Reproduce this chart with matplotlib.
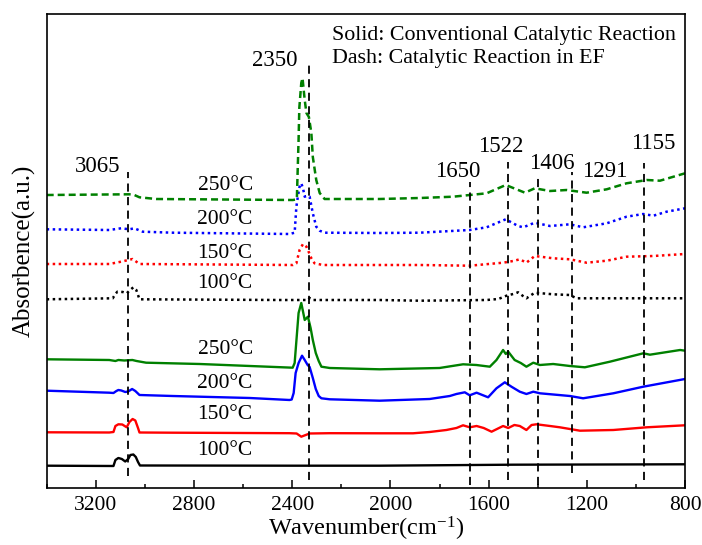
import matplotlib
matplotlib.use("Agg")
import matplotlib.pyplot as plt
from matplotlib.ticker import MultipleLocator

plt.rcParams["font.family"] = ["Liberation Serif", "DejaVu Serif"]
plt.rcParams["mathtext.fontset"] = "custom"
plt.rcParams["mathtext.rm"] = "Liberation Serif"
plt.rcParams["mathtext.default"] = "regular"

# conventional catalytic reaction (solid lines), stacked absorbance
wn_c100 = [3400, 3128, 3120, 3108, 3094, 3080, 3068, 3059, 3047, 3037, 3028, 3020, 2400, 2044, 1501, 800]
a_c100 = [0.323, 0.32, 0.38, 0.40, 0.39, 0.365, 0.39, 0.43, 0.435, 0.41, 0.36, 0.325, 0.323, 0.323, 0.333, 0.337]

wn_c150 = [3400, 3145, 3128, 3120, 3108, 3092, 3074, 3063, 3050, 3039, 3028, 3022, 2887, 2411, 2382, 2363,
           2345, 2329, 2247, 2044, 1908, 1840, 1772, 1731, 1704, 1677, 1649, 1620, 1588, 1541, 1520, 1495,
           1473, 1446, 1425, 1405, 1350, 1310, 1228, 1092, 956, 800]
a_c150 = [0.657, 0.655, 0.66, 0.72, 0.737, 0.735, 0.707, 0.76, 0.79, 0.775, 0.70, 0.655, 0.653, 0.648, 0.645, 0.613,
          0.63, 0.645, 0.648, 0.647, 0.647, 0.66, 0.68, 0.70, 0.727, 0.707, 0.72, 0.70, 0.663, 0.72, 0.70, 0.73,
          0.72, 0.68, 0.73, 0.737, 0.72, 0.707, 0.673, 0.68, 0.707, 0.727]

wn_c200 = [3400, 3145, 3128, 3116, 3108, 3096, 3080, 3068, 3052, 3039, 3022, 2887, 2573, 2411, 2402, 2394,
           2386, 2374, 2360, 2349, 2337, 2329, 2316, 2304, 2292, 2281, 2247, 2044, 1840, 1758, 1731, 1697,
           1677, 1649, 1602, 1568, 1534, 1507, 1473, 1446, 1418, 1391, 1269, 1215, 1092, 970, 800]
a_c200 = [1.073, 1.053, 1.05, 1.07, 1.08, 1.075, 1.06, 1.065, 1.09, 1.07, 1.03, 1.02, 1.0, 0.98, 0.985, 1.05,
          1.25, 1.35, 1.423, 1.38, 1.33, 1.31, 1.2, 1.09, 1.02, 0.997, 0.987, 0.973, 0.99, 1.02, 1.04, 1.057,
          1.027, 1.053, 1.007, 1.097, 1.157, 1.113, 1.063, 1.04, 1.063, 1.047, 1.02, 0.997, 1.047, 1.113, 1.19]

wn_c250 = [3400, 3145, 3120, 3108, 3084, 3051, 3034, 2995, 2777, 2398, 2390, 2382, 2374, 2363, 2349, 2336,
           2325, 2316, 2304, 2292, 2281, 2247, 2044, 1800, 1704, 1650, 1595, 1568, 1541, 1530, 1520, 1494,
           1469, 1446, 1418, 1391, 1337, 1269, 1208, 1106, 970, 943, 820, 800]
a_c250 = [1.387, 1.38, 1.37, 1.38, 1.375, 1.38, 1.37, 1.353, 1.34, 1.303, 1.35, 1.6, 1.85, 1.95, 1.78, 1.813,
          1.7, 1.58, 1.45, 1.37, 1.313, 1.30, 1.287, 1.30, 1.337, 1.33, 1.313, 1.38, 1.48, 1.44, 1.463, 1.38,
          1.35, 1.313, 1.353, 1.33, 1.34, 1.32, 1.307, 1.363, 1.447, 1.433, 1.48, 1.473]

# catalytic reaction in electric field (dashed / dotted lines)
wn_e100 = [3400, 3131, 3120, 3112, 3090, 3074, 3060, 3047, 3035, 3022, 2450, 2336, 2329, 2316, 2044, 1880,
           1608, 1560, 1527, 1500, 1480, 1460, 1446, 1412, 1337, 1269, 1242, 800]
a_e100 = [1.987, 1.997, 2.04, 2.063, 2.06, 2.047, 2.08, 2.107, 2.08, 1.987, 1.98, 1.98, 2.0, 1.98, 1.98, 1.973,
          1.98, 1.99, 2.023, 2.04, 2.057, 2.02, 1.997, 2.053, 2.037, 2.03, 1.997, 1.997]

wn_e150 = [3400, 3145, 3097, 3050, 3022, 2397, 2383, 2370, 2356, 2342, 2336, 2322, 2309, 2275, 2044, 1880,
           1677, 1541, 1500, 1473, 1446, 1412, 1337, 1269, 1201, 1119, 1038, 929, 800]
a_e150 = [2.34, 2.34, 2.363, 2.39, 2.34, 2.33, 2.347, 2.48, 2.54, 2.513, 2.48, 2.397, 2.347, 2.33, 2.33, 2.33,
          2.323, 2.353, 2.37, 2.387, 2.353, 2.42, 2.397, 2.387, 2.353, 2.373, 2.413, 2.42, 2.44]

wn_e200 = [3400, 3145, 3097, 3063, 3043, 3009, 2886, 2411, 2390, 2383, 2377, 2370, 2363, 2356, 2349, 2342,
           2329, 2316, 2302, 2288, 2268, 2044, 1880, 1677, 1608, 1530, 1480, 1459, 1412, 1350, 1269, 1215,
           1119, 1038, 970, 929, 875, 800]
a_e200 = [2.687, 2.68, 2.697, 2.687, 2.697, 2.663, 2.653, 2.64, 2.653, 2.913, 3.013, 3.113, 3.147, 3.097, 3.013, 3.02,
          3.013, 2.847, 2.713, 2.673, 2.653, 2.65, 2.653, 2.68, 2.707, 2.787, 2.72, 2.707, 2.753, 2.72, 2.737, 2.707,
          2.747, 2.813, 2.84, 2.823, 2.863, 2.897]

wn_e250 = [3400, 3063, 3043, 3022, 2954, 2397, 2386, 2381, 2378, 2374, 2371, 2363, 2358, 2349, 2342, 2332,
           2322, 2316, 2302, 2288, 2268, 2044, 1880, 1745, 1608, 1530, 1452, 1412, 1350, 1282, 1201, 1119,
           1038, 956, 902, 800]
a_e250 = [3.03, 3.037, 3.03, 3.007, 2.99, 2.98, 2.985, 2.99, 3.25, 3.58, 3.9, 4.15, 4.2, 3.98, 3.85, 3.81,
          3.65, 3.41, 3.18, 3.05, 2.99, 2.99, 3.0, 3.013, 3.047, 3.13, 3.053, 3.097, 3.07, 3.08, 3.053, 3.087,
          3.147, 3.18, 3.173, 3.247]

temps = ["100°C", "150°C", "200°C", "250°C"]
colors = ["black", "red", "blue", "green"]

# peak markers
peak_labels = ["3065", "2350", "1650", "1522", "1406", "1291", "1155"]
peak_lines = [3067, 2332, 1674, 1522, 1400, 1261, 968]
line_top = [3.263, 4.34, 3.163, 3.363, 3.213, 3.263, 3.347]
line_bottom = [0.217, 0.183, 0.133, 0.18, 0.133, 0.25, 0.18]

fig = plt.figure(figsize=(7.02, 5.45), dpi=100)
ax = fig.add_axes([0.0665, 0.1046, 0.9093, 0.8697])

solid = [(wn_c100, a_c100), (wn_c150, a_c150), (wn_c200, a_c200), (wn_c250, a_c250)]
for (wn, a), c in zip(solid, colors):
    ax.plot(wn, a, color=c, lw=1.7)

ef_styles = [(0, (1, 1.4)), (0, (1, 1.4)), (0, (1, 1.4)), (0, (2.8, 1.6))]
ef = [(wn_e100, a_e100), (wn_e150, a_e150), (wn_e200, a_e200), (wn_e250, a_e250)]
for (wn, a), c, ls in zip(ef, colors, ef_styles):
    ax.plot(wn, a, color=c, lw=1.8, linestyle=ls)

ax.vlines(peak_lines, line_bottom, line_top, colors="black", linestyles=(0, (4.5, 3)), lw=1.3)

# temperature labels
label_wn = 2673
for t, y in zip(temps, [0.47, 0.83, 1.147, 1.48]):
    ax.text(label_wn, y, t, ha="center", va="center", fontsize=15.5)
for t, y in zip(temps, [2.147, 2.447, 2.79, 3.13]):
    ax.text(label_wn, y, t, ha="center", va="center", fontsize=15.5)

peak_text_pos = [(3192, 3.313), (2472, 4.38), (1724, 3.263), (1550, 3.513),
                 (1341, 3.347), (1129, 3.263), (929, 3.547)]
for s, (x, y) in zip(peak_labels, peak_text_pos):
    ax.text(x, y, s, ha="center", va="center", fontsize=16.5)

ax.text(2236, 4.63, "Solid: Conventional Catalytic Reaction", ha="left", va="center", fontsize=15.8)
ax.text(2236, 4.397, "Dash: Catalytic Reaction in EF", ha="left", va="center", fontsize=15.8)

ax.set_xlim(3400, 800)
ax.set_ylim(0.10, 4.84)
ax.set_xticks([3200, 2800, 2400, 2000, 1600, 1200, 800])
ax.xaxis.set_minor_locator(MultipleLocator(200))
ax.set_yticks([])
ax.tick_params(axis="x", which="major", direction="in", length=6, width=1.1, labelsize=15.5, pad=6)
ax.tick_params(axis="x", which="minor", direction="in", length=3.2, width=1.1)
for sp in ax.spines.values():
    sp.set_linewidth(1.2)

ax.set_xlabel("Wavenumber(cm$^{-1}$)", fontsize=17.5, labelpad=0)
ax.set_ylabel("Absorbence(a.u.)", fontsize=18)
ax.yaxis.set_label_coords(-0.017, 0.5)

fig.savefig("out.png", dpi=100)
